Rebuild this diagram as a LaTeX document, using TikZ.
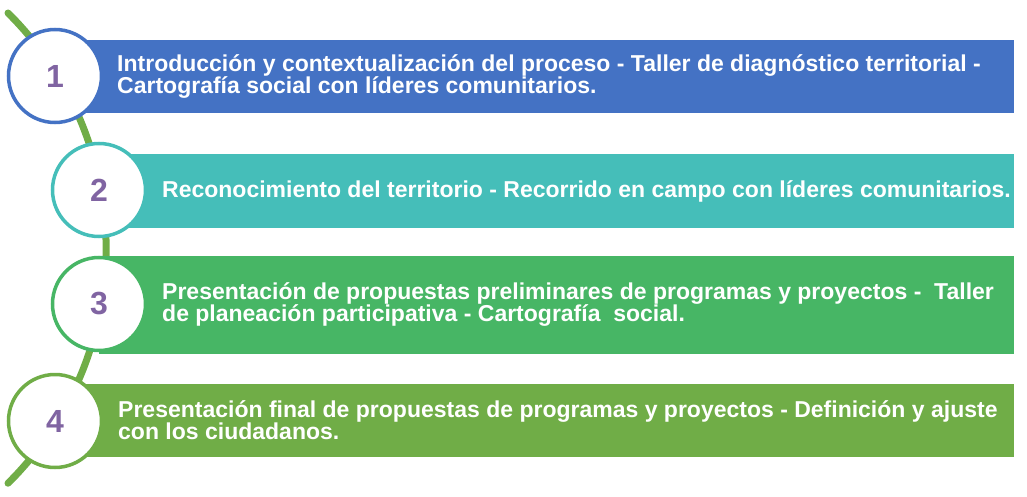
\documentclass[tikz,border=0pt]{standalone}
\usepackage{fontspec}
\setmainfont{Liberation Sans}
\usepackage{xcolor}
\usetikzlibrary{positioning}
\definecolor{bluebar}{HTML}{4472C4}
\definecolor{tealbar}{HTML}{45BEB9}
\definecolor{greenbar}{HTML}{47B665}
\definecolor{olivebar}{HTML}{70AD47}
\definecolor{numpurple}{HTML}{8064A2}

\begin{document}
\begin{tikzpicture}[x=1pt,y=-1pt]
\useasboundingbox (0,0) rectangle (1027,497);
\tikzstyle{bar}=[anchor=west, minimum height=73pt, inner sep=0]
\tikzstyle{stage}=[circle, draw, fill=white, line width=3.5pt, minimum size=93pt, inner sep=0,
  text=numpurple, font=\fontsize{32}{32}\selectfont\bfseries]
\tikzstyle{txt}=[anchor=west, inner sep=0, align=left, text=white,
  font=\fontsize{23}{22}\selectfont\bfseries]

% green line behind the circles
\coordinate (start) at (8,13);
\draw[olivebar, line width=7pt, line cap=round] (start) arc[start angle=-45.3, end angle=45.3, radius=330.8];

\node[bar, fill=bluebar, minimum width=959pt] (b1) at (55,76.5) {};
\node[bar, fill=tealbar, minimum width=915pt] (b2) at (99,191) {};
\node[bar, fill=greenbar, minimum width=915pt, minimum height=98pt] (b3) at (99,305) {};
\node[bar, fill=olivebar, minimum width=959pt] (b4) at (55,420.5) {};

\node[txt, right=62pt of b1.west] (t1) {Introducción y contextualización del proceso - Taller de diagnóstico territorial -\\Cartografía social con líderes comunitarios.};
\node[txt, right=63pt of b2.west] (t2) {Reconocimiento del territorio - Recorrido en campo con líderes comunitarios.};
\node[txt, right=63pt of b3.west] (t3) {Presentación de propuestas preliminares de programas y proyectos -~~Taller\\de planeación participativa - Cartografía~~social.};
\node[txt, right=63pt of b4.west] (t4) {Presentación final de propuestas de programas y proyectos - Definición y ajuste\\con los ciudadanos.};

\node[stage, draw=bluebar] (c1) at (55,76) {1};
\node[stage, draw=tealbar] (c2) at (99,190) {2};
\node[stage, draw=greenbar] (c3) at (99,304) {3};
\node[stage, draw=olivebar] (c4) at (55,421) {4};
\end{tikzpicture}
\end{document}
